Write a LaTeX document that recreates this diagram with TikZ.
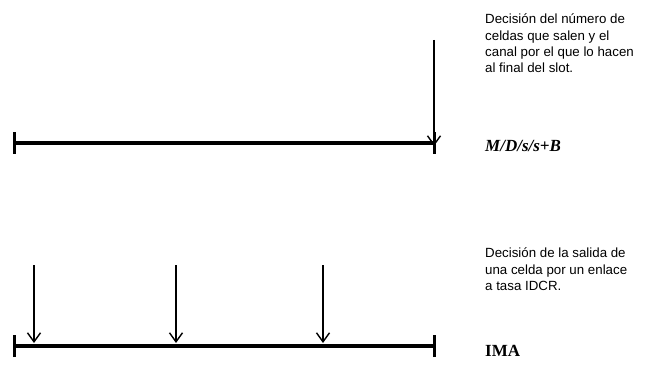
\documentclass[tikz,border=0pt]{standalone}
\usepackage{fontspec}
\setmainfont{Liberation Serif}
\setsansfont{Liberation Sans}
\usetikzlibrary{arrows.meta,positioning}

\begin{document}
\begin{tikzpicture}[x=1pt, y=-1pt,
  slotline/.style={line width=3.5pt},
  slottick/.style={line width=3pt},
  decarr/.style={-{Straight Barb[length=9pt,width=13pt,line width=1.4pt]}, line width=1.3pt},
  note/.style={anchor=north west, inner sep=0pt, align=left,
               font=\sffamily\fontsize{13.3}{16.3}\selectfont},
  model/.style={anchor=west, inner sep=0pt, font=\bfseries\fontsize{17}{20}\selectfont}
]
  \useasboundingbox (0,0) rectangle (650,382);

  % slot superior
  \coordinate (a0) at (14,143);
  \coordinate (a1) at (434,143);
  \draw[slotline] (a0) -- (a1);
  \draw[slottick] ([yshift=-11pt]a0) -- ([yshift=11pt]a0);
  \draw[slottick] ([yshift=-11pt]a1) -- ([yshift=11pt]a1);

  \coordinate (t1) at (434,40);
  \draw[decarr] (t1) -- ([yshift=-3pt]a1);

  \node[note] (n1) at (485,14) {Decisión del número de\\celdas que salen y el\\canal por el que lo hacen\\al final del slot.};
  \node[model] (m1) at (485,146) {\itshape M/D/s/s+B};

  % slot inferior
  \coordinate (b0) at (14,346);
  \coordinate (b1) at (434,346);
  \draw[slotline] (b0) -- (b1);
  \draw[slottick] ([yshift=-11pt]b0) -- ([yshift=11pt]b0);
  \draw[slottick] ([yshift=-11pt]b1) -- ([yshift=11pt]b1);

  \foreach \px [count=\i] in {34,176,323}{
    \coordinate (s\i) at (\px,265);
    \coordinate (e\i) at (\px,343);
    \draw[decarr] (s\i) -- (e\i);
  }

  \node[note] (n2) at (485,248) {Decisión de la salida de\\una celda por un enlace\\a tasa IDCR.};
  \node[model] (m2) at (485,351) {IMA};
\end{tikzpicture}
\end{document}
